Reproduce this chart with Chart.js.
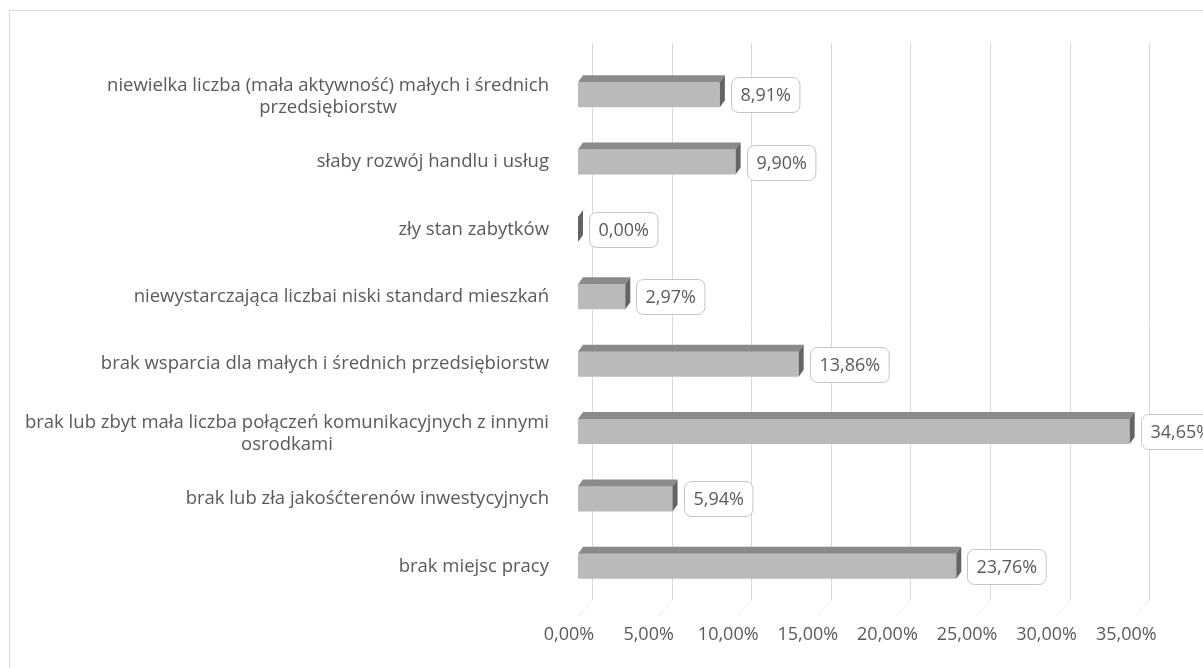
<!DOCTYPE html>
<html><head><meta charset="utf-8">
<script src="https://cdn.jsdelivr.net/npm/chart.js@4.4.1/dist/chart.umd.min.js"></script>
<style>
html,body{margin:0;padding:0;background:#fff;}
#wrap{position:relative;width:1203px;height:668px;overflow:hidden;background:#fff;}
#frame{position:absolute;left:9px;top:10px;width:1210px;height:700px;border:1px solid #dcdcdc;box-sizing:border-box;}
canvas{position:absolute;left:0;top:0;}
</style></head>
<body><div id="wrap"><div id="frame"></div><canvas id="c" width="1203" height="668"></canvas></div>
<script>
const categories = [
  ['niewielka liczba (mała aktywność) małych i średnich', 'przedsiębiorstw'],
  'słaby rozwój handlu i usług',
  'zły stan zabytków',
  'niewystarczająca liczbai niski standard mieszkań',
  'brak wsparcia dla małych i średnich przedsiębiorstw',
  ['brak lub zbyt mała liczba połączeń komunikacyjnych z innymi', 'osrodkami'],
  'brak lub zła jakośćterenów inwestycyjnych',
  'brak miejsc pracy'
];
const values = [8.91, 9.90, 0.00, 2.97, 13.86, 34.65, 5.94, 23.76];
const tickValues = [0, 5, 10, 15, 20, 25, 30, 35];

const FONT = "'Open Sans', sans-serif";
const TEXT = '#5a5a5a';
const DX = 5, DY = 7;       // 3D depth of bars
const WALL_DX = 14;         // back wall offset
const LABEL_RIGHT = 549;    // right edge of category labels

const fmt = v => Number(v).toFixed(2).replace('.', ',') + '%';

const decor = {
  id: 'decor',
  beforeDatasetsDraw(chart) {
    const { ctx, chartArea, scales: { x } } = chart;
    ctx.save();
    ctx.lineWidth = 1;
    tickValues.forEach(v => {
      const px = Math.round(x.getPixelForValue(v) + WALL_DX) + 0.5;
      ctx.strokeStyle = '#dadada';
      ctx.beginPath();
      ctx.moveTo(px, 43);
      ctx.lineTo(px, chartArea.bottom);
      ctx.stroke();
      ctx.strokeStyle = '#ececec';
      ctx.beginPath();
      ctx.moveTo(px, chartArea.bottom);
      ctx.lineTo(px - WALL_DX, chartArea.bottom + 16);
      ctx.stroke();
    });
    ctx.restore();
  },
  afterDatasetsDraw(chart) {
    const { ctx } = chart;
    const meta = chart.getDatasetMeta(0);
    ctx.save();
    meta.data.forEach((bar, i) => {
      const p = bar.getProps(['x', 'y', 'base', 'height'], true);
      const top = p.y - p.height / 2, bottom = p.y + p.height / 2;
      const xe = p.x, xb = p.base;
      // top face
      ctx.fillStyle = '#8a8a8a';
      ctx.beginPath();
      ctx.moveTo(xb, top); ctx.lineTo(xb + DX, top - DY);
      ctx.lineTo(xe + DX, top - DY); ctx.lineTo(xe, top);
      ctx.closePath(); ctx.fill();
      // side face
      ctx.fillStyle = '#646464';
      ctx.beginPath();
      ctx.moveTo(xe, top); ctx.lineTo(xe + DX, top - DY);
      ctx.lineTo(xe + DX, bottom - DY); ctx.lineTo(xe, bottom);
      ctx.closePath(); ctx.fill();
      // data label box
      const txt = fmt(values[i]);
      ctx.font = `18px ${FONT}`;
      const w = ctx.measureText(txt).width + 18;
      const h = 35;
      const bx = Math.round(xe + DX + 6) + 0.5;
      const by = Math.round(p.y - h / 2) + 0.5;
      ctx.fillStyle = '#ffffff';
      ctx.strokeStyle = '#c4c4c4';
      ctx.lineWidth = 1;
      ctx.beginPath();
      ctx.roundRect(bx, by, w, h, 7);
      ctx.fill(); ctx.stroke();
      ctx.fillStyle = TEXT;
      ctx.textAlign = 'center';
      ctx.textBaseline = 'middle';
      ctx.fillText(txt, bx + w / 2, by + h / 2 + 1);
    });
    ctx.restore();
  },
  afterDraw(chart) {
    const { ctx, scales: { y } } = chart;
    ctx.save();
    ctx.font = `18.5px ${FONT}`;
    ctx.fillStyle = TEXT;
    ctx.textAlign = 'center';
    ctx.textBaseline = 'middle';
    categories.forEach((lab, i) => {
      const lines = Array.isArray(lab) ? lab : [lab];
      const maxW = Math.max(...lines.map(l => ctx.measureText(l).width));
      const cx = LABEL_RIGHT - maxW / 2;
      const cy = y.getPixelForValue(i) + (lines.length > 1 ? 2 : 0);
      const lh = 22;
      lines.forEach((l, j) => ctx.fillText(l, cx, cy + (j - (lines.length - 1) / 2) * lh));
    });
    ctx.restore();
  }
};

new Chart(document.getElementById('c').getContext('2d'), {
  type: 'bar',
  data: {
    labels: categories,
    datasets: [{
      data: values,
      xAxisID: 'x',
      yAxisID: 'y',
      backgroundColor: '#bababa',
      borderWidth: 0,
      barPercentage: 0.37,
      categoryPercentage: 1
    }]
  },
  options: {
    indexAxis: 'y',
    responsive: false,
    animation: false,
    layout: { padding: { top: 61, right: 29, left: 0, bottom: 0 } },
    plugins: { legend: { display: false }, tooltip: { enabled: false } },
    scales: {
      x: { type: 'linear', display: false, min: -0.565, max: 37.435 },
      xt: {
        type: 'linear', position: 'bottom', min: 0, max: 38,
        grid: { display: false, drawTicks: false },
        border: { display: false },
        ticks: {
          stepSize: 5, padding: 24, color: TEXT,
          font: { family: FONT, size: 18 },
          maxRotation: 0, autoSkip: false,
          callback: v => fmt(v)
        },
        afterBuildTicks: s => { s.ticks = tickValues.map(v => ({ value: v })); },
        afterFit: s => { s.height = 68; }
      },
      y: {
        type: 'category',
        grid: { display: false, drawTicks: false },
        border: { display: false },
        ticks: { display: false },
        afterFit: s => { s.width = 569; }
      }
    }
  },
  plugins: [decor]
});
</script>
</body></html>
